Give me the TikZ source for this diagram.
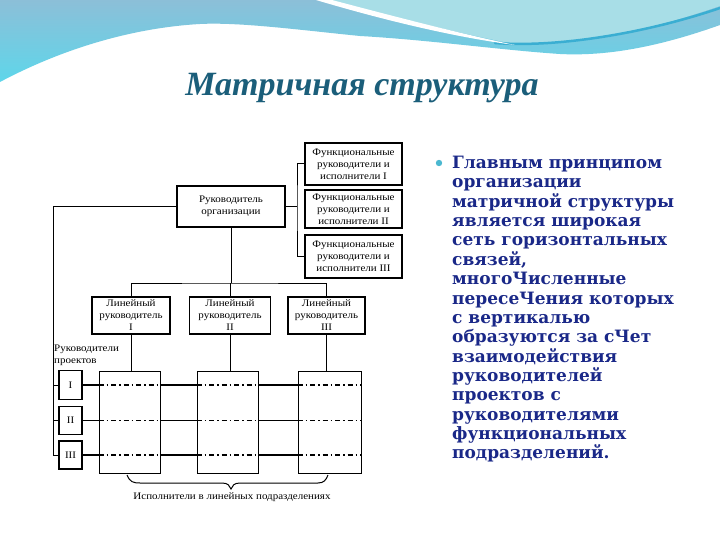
\documentclass[tikz,border=0pt]{standalone}
\usepackage{fontspec}
\setmainfont{Liberation Serif}
\newfontfamily\bodyfont{DejaVu Serif}
\newfontfamily\diafont[FakeStretch=1.1]{Liberation Serif}
\usetikzlibrary{calc}
\definecolor{titlec}{HTML}{1B5E7A}
\definecolor{bodyc}{HTML}{1A2888}
\definecolor{topblue}{HTML}{8CBFD8}
\definecolor{cyanb}{HTML}{5ED6EA}
\definecolor{lightc}{HTML}{A8DEE7}
\definecolor{darkline}{HTML}{3AAED2}
\definecolor{bulletc}{HTML}{4BB8D0}
\tikzset{
  dbox/.style={draw=black, line width=1.2pt, inner sep=1pt, align=center,
    font=\diafont\fontsize{10}{12}\selectfont},
  colbox/.style={draw=black, line width=0.8pt, inner sep=0pt},
  conn/.style={draw=black, line width=1pt},
  rowthick/.style={draw=black, line width=1.8pt},
  rowthin/.style={draw=black, line width=1pt},
  rowdash/.style={draw=black, line width=1.8pt, dash pattern=on 5pt off 3pt on 1.5pt off 3pt},
  dlabel/.style={font=\diafont\fontsize{10}{12}\selectfont, inner sep=0pt, align=left}
}
\begin{document}
\begin{tikzpicture}[x=1pt,y=-1pt]
\useasboundingbox (0,0) rectangle (720,540);
\fill[white] (0,0) rectangle (720,540);
% top decoration
\shade[top color=topblue, bottom color=cyanb]
  (0,0) -- (720,0) -- (720,25)
  .. controls (650,50) and (600,56) .. (560,54)
  .. controls (500,50) and (430,40) .. (360,36)
  .. controls (300,30) and (240,22) .. (200,24)
  .. controls (130,28) and (60,50) .. (0,82) -- cycle;
\fill[lightc] (318,0) -- (720,0) -- (720,6)
  .. controls (650,30) and (580,46) .. (515,44)
  .. controls (470,36) and (400,18) .. (318,0) -- cycle;
\draw[darkline, line width=2.5pt, line cap=round] (495,43) .. controls (560,48) and (650,32) .. (720,8);
\fill[white] (316,0) -- (332,0) .. controls (400,18) and (470,36) .. (515,45)
  .. controls (460,38) and (390,22) .. (316,0) -- cycle;
% title
\node[font=\fontsize{34}{40}\selectfont\bfseries\itshape, text=titlec] (title) at (362,88) {Матричная структура};
% bullet text
\fill[bulletc] (439,163) circle (3.2);
\node[anchor=north west, text=bodyc, font=\bodyfont\bfseries\fontsize{17}{19.35}\selectfont, align=left, inner sep=0pt] (body) at (452,156)
 {Главным принципом\\ организации\\ матричной структуры\\ является широкая\\ сеть горизонтальных\\ связей,\\ многоЧисленные\\ пересеЧения которых\\ с вертикалью\\ образуются за сЧет\\ взаимодействия\\ руководителей\\ проектов с\\ руководителями\\ функциональных\\ подразделений.};
% diagram boxes
\node[dbox, minimum width=108, minimum height=41] (org) at (231,206.5) {Руководитель\\ организации};
\node[dbox, minimum width=97, minimum height=42] (f1) at (353.5,164) {Функциональные\\ руководители и\\ исполнители I};
\node[dbox, minimum width=97, minimum height=38] (f2) at (353.5,209) {Функциональные\\ руководители и\\ исполнители II};
\node[dbox, minimum width=97, minimum height=43] (f3) at (353.5,256.5) {Функциональные\\ руководители и\\ исполнители III};
\node[dbox, minimum width=78, minimum height=37] (l1) at (131,315.5) {Линейный\\ руководитель\\ I};
\node[dbox, minimum width=81, minimum height=37] (l2) at (230,315.5) {Линейный\\ руководитель\\ II};
\node[dbox, minimum width=77, minimum height=37] (l3) at (326.5,315.5) {Линейный\\ руководитель\\ III};
\node[colbox, minimum width=61, minimum height=102] (c1) at (129.5,422) {};
\node[colbox, minimum width=61, minimum height=102] (c2) at (227.5,422) {};
\node[colbox, minimum width=63, minimum height=102] (c3) at (329.5,422) {};
\node[dbox, minimum width=23, minimum height=29] (p1) at (70.5,385) {I};
\node[dbox, minimum width=23, minimum height=28] (p2) at (70.5,420.5) {II};
\node[dbox, minimum width=23, minimum height=28] (p3) at (70.5,455) {III};
\node[dlabel, anchor=west] (pm) at (54,355) {Руководители\\ проектов};
\node[dlabel, anchor=center] (exec) at (232,497) {Исполнители в линейных подразделениях};
% connectors
\coordinate (fv) at (297,206.5);
\coordinate (bar) at (231,283);
\coordinate (L) at (53,206.5);
\draw[conn] (org.east) -- (fv);
\draw[conn] (f1.west) -| (fv) |- (f3.west);
\draw[conn] (org.south) -- (bar);
\draw[conn] (l1.north) |- (bar) -| (l3.north);
\draw[conn] (l2.north) -- (l2.north |- bar);
\draw[conn] (l1.south) -- (l1.south |- c1.north);
\draw[conn] (l2.south) -- (l2.south |- c2.north);
\draw[conn] (l3.south) -- (l3.south |- c3.north);
\draw[conn] (org.west) -- (L) |- (p3.west);
\draw[conn] (p1.west) -- (p1.west -| L);
\draw[conn] (p2.west) -- (p2.west -| L);
% rows
\foreach \p/\st in {p1/rowthick, p2/rowthin, p3/rowthick} {
  \draw[\st] (\p.east) -- (\p.east -| c1.west);
  \draw[rowdash] (\p.east -| c1.west) -- (\p.east -| c1.east);
  \draw[\st] (\p.east -| c1.east) -- (\p.east -| c2.west);
  \draw[rowdash] (\p.east -| c2.west) -- (\p.east -| c2.east);
  \draw[\st] (\p.east -| c2.east) -- (\p.east -| c3.west);
  \draw[rowdash] (\p.east -| c3.west) -- (\p.east -| c3.east);
}
% brace
\draw[line width=1pt] (127,475) .. controls (130,482) and (133,483) .. (140,483) -- (222,483)
  .. controls (228,483) and (230,486) .. (231,489) .. controls (232,486) and (234,483) .. (240,483)
  -- (318,483) .. controls (324,483) and (326,480) .. (328,475);
\end{tikzpicture}
\end{document}
